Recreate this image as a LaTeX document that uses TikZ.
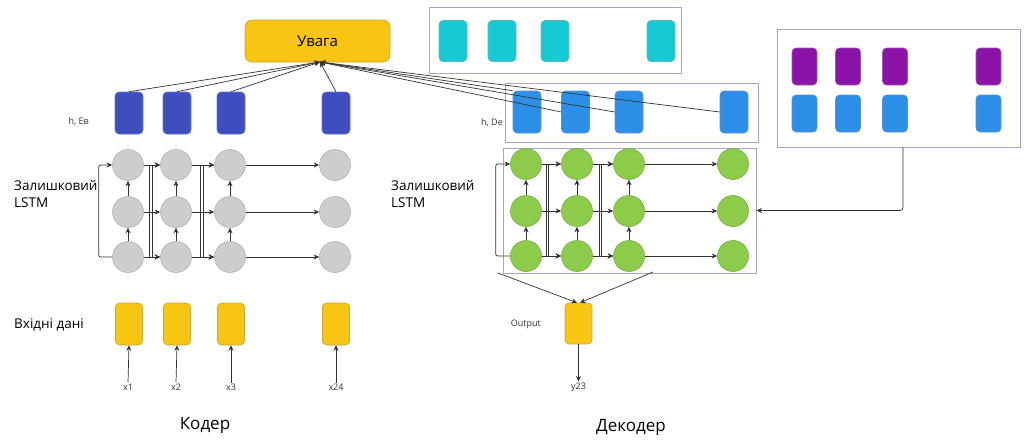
\documentclass[tikz,border=0pt]{standalone}
\usepackage{fontspec}
\setmainfont{Open Sans}
\usetikzlibrary{arrows.meta}
\definecolor{gold}{HTML}{F8C512}
\definecolor{goldedge}{HTML}{C9A43C}
\definecolor{indigo}{HTML}{3F4EBE}
\definecolor{indigoedge}{HTML}{6673D2}
\definecolor{grayfill}{HTML}{CDCDCD}
\definecolor{grayedge}{HTML}{B2B2B2}
\definecolor{cyanfill}{HTML}{17C9D2}
\definecolor{cyanedge}{HTML}{5CB8BE}
\definecolor{decblue}{HTML}{2D90E8}
\definecolor{decblueedge}{HTML}{5A8FCC}
\definecolor{greenfill}{HTML}{8DCB4B}
\definecolor{greenedge}{HTML}{74B040}
\definecolor{purplefill}{HTML}{8B13A7}
\definecolor{purpleedge}{HTML}{9B5AB0}
\definecolor{groupedge}{HTML}{A4A6CC}
\definecolor{wire}{HTML}{333333}
\tikzset{
  cell/.style 2 args={fill=#1, draw=#2, line width=0.6pt, rounded corners=4pt,
    minimum width=28pt, minimum height=42pt, inner sep=0pt},
  smallcell/.style 2 args={cell={#1}{#2}, minimum width=25pt, minimum height=37pt},
  lstm/.style 2 args={circle, fill=#1, draw=#2, line width=0.6pt,
    minimum size=31pt, inner sep=0pt},
  group/.style={draw=groupedge, line width=0.8pt, inner sep=0pt},
  arr/.style={draw=wire, line width=0.7pt, -{Stealth[length=5.5pt,width=5pt]}},
  tiny/.style={font=\fontsize{9}{10}\selectfont, text=black!80, inner sep=1pt},
  lbl/.style={font=\fontsize{13.5}{17}\selectfont, align=left, inner sep=0pt},
  title/.style={font=\fontsize{17}{20}\selectfont, inner sep=0pt}
}
\begin{document}
\begin{tikzpicture}[x=1pt,y=-1pt]
\useasboundingbox (0,0) rectangle (1024,439);

% ---------------- Encoder ----------------
\node[cell={gold}{goldedge}, minimum width=145pt, minimum height=42pt,
  rounded corners=7pt, font=\fontsize{15}{18}\selectfont] (attn) at (317.5,41) {Увага};
\coordinate (att) at (320,62);

\foreach \c/\x in {1/129,2/177,3/231,4/336} {
  \node[cell={indigo}{indigoedge}] (eh\c) at (\x,113) {};
  \node[lstm={grayfill}{grayedge}] (et\c) at (\x-1,165) {};
  \node[lstm={grayfill}{grayedge}] (em\c) at (\x-1,212) {};
  \node[lstm={grayfill}{grayedge}] (eb\c) at (\x-1,257) {};
  \node[cell={gold}{goldedge}, minimum width=27pt] (in\c) at (\x,324) {};
}
\node[tiny, anchor=east] (ehlbl) at (90,122) {h, Eв};

% attention inputs from the encoder states
\foreach \c in {1,2,3,4} { \draw[arr] (eh\c.north) -- (att); }

% stacked LSTM: recurrent and upward links
\foreach \a/\b in {1/2,2/3,3/4} {
  \draw[arr] (et\a) -- (et\b);
  \draw[arr] (em\a) -- (em\b);
  \draw[arr] (eb\a) -- (eb\b);
}
\foreach \c in {1,2,3} {
  \draw[arr] (eb\c.north) -- (em\c.south);
  \draw[arr] (em\c.north) -- (et\c.south);
}
% residual links
\draw[arr, rounded corners=2pt] (eb1.west) -- ++(-13.5,0) |- (et1.west);
\draw[arr] (eb1.east) -- ++(5.5,0) |- (et2.west);
\draw[arr] (et1.east) -- ++(8.5,0) |- (eb2.west);
\draw[arr] (eb2.east) -- ++(8.5,0) |- (et3.west);
\draw[arr] (et2.east) -- ++(11.5,0) |- (eb3.west);

\node[lbl, anchor=west] (elstm) at (14,194) {Залишковий\\LSTM};

% inputs
\node[lbl, anchor=west] (inlbl) at (14,325) {Вхідні дані};
\foreach \c/\x/\t in {1/128/x1,2/176/x2,3/231/x3,4/336/x24} {
  \node[tiny] (xl\c) at (\x,387) {\t};
  \draw[arr] (xl\c.north) -- (in\c.south);
}
\node[title] (enc) at (205,425) {Кодер};

% ---------------- Decoder ----------------
\node[group, minimum width=252pt, minimum height=66pt] (cygrp) at (555,40) {};
\foreach \c/\x in {1/453,2/502,3/555,4/661} {
  \node[cell={cyanfill}{cyanedge}, minimum height=41pt] (cy\c) at (\x,41) {};
}

\node[group, minimum width=253pt, minimum height=59pt] (dhgrp) at (631.5,112.5) {};
\foreach \c/\x in {1/527,2/575.5,3/629,4/734} {
  \node[cell={decblue}{decblueedge}] (dh\c) at (\x,112) {};
}
\node[tiny, anchor=east] (dhlbl) at (504,123) {h, De};

% attention inputs from the decoder states
\draw[arr] (dh1.north west) -- (att);
\foreach \c in {2,3,4} { \draw[arr] (dh\c.west) -- (att); }

\node[group, minimum width=253pt, minimum height=125pt] (dgrp) at (629.5,210.5) {};
\foreach \c/\x in {1/526,2/577,3/629,4/733} {
  \node[lstm={greenfill}{greenedge}] (dt\c) at (\x,164) {};
  \node[lstm={greenfill}{greenedge}] (dm\c) at (\x,211) {};
  \node[lstm={greenfill}{greenedge}] (db\c) at (\x,256) {};
}
\foreach \a/\b in {1/2,2/3,3/4} {
  \draw[arr] (dt\a) -- (dt\b);
  \draw[arr] (dm\a) -- (dm\b);
  \draw[arr] (db\a) -- (db\b);
}
\foreach \c in {1,2,3} {
  \draw[arr] (db\c.north) -- (dm\c.south);
  \draw[arr] (dm\c.north) -- (dt\c.south);
}
\draw[arr, rounded corners=2pt] (db1.west) -- ++(-14.5,0) |- (dt1.west);
\draw[arr] (db1.east) -- ++(4.5,0) |- (dt2.west);
\draw[arr] (dt1.east) -- ++(6.5,0) |- (db2.west);
\draw[arr] (db2.east) -- ++(6.5,0) |- (dt3.west);
\draw[arr] (dt2.east) -- ++(8.5,0) |- (db3.west);

\node[lbl, anchor=west] (dlstm) at (391,194) {Залишковий\\LSTM};

% context block feeding the decoder
\node[group, minimum width=243pt, minimum height=118pt] (ctx) at (898.5,88) {};
\foreach \c/\x in {1/804.5,2/848,3/895,4/988.5} {
  \node[smallcell={purplefill}{purpleedge}] (pu\c) at (\x,66.5) {};
  \node[smallcell={decblue}{decblueedge}] (cb\c) at (\x,113.5) {};
}
\draw[arr, rounded corners=3pt] ([xshift=4.5pt]ctx.south) |- (dgrp.east);

% output
\node[cell={gold}{goldedge}, minimum width=27pt, minimum height=41pt] (out) at (578.5,323.5) {};
\coordinate (dl) at (498,273);
\coordinate (dr) at (653,272);
\draw[arr] (dl) -- ([xshift=-1.5pt]out.north);
\draw[arr] (dr) -- ([xshift=1.5pt]out.north);
\node[tiny, anchor=east] (outlbl) at (542,324) {Output};
\node[tiny] (yl) at (578.5,387) {y23};
\draw[arr] (out.south) -- (yl.north);
\node[title] (dec) at (631,427) {Декодер};
\end{tikzpicture}
\end{document}
